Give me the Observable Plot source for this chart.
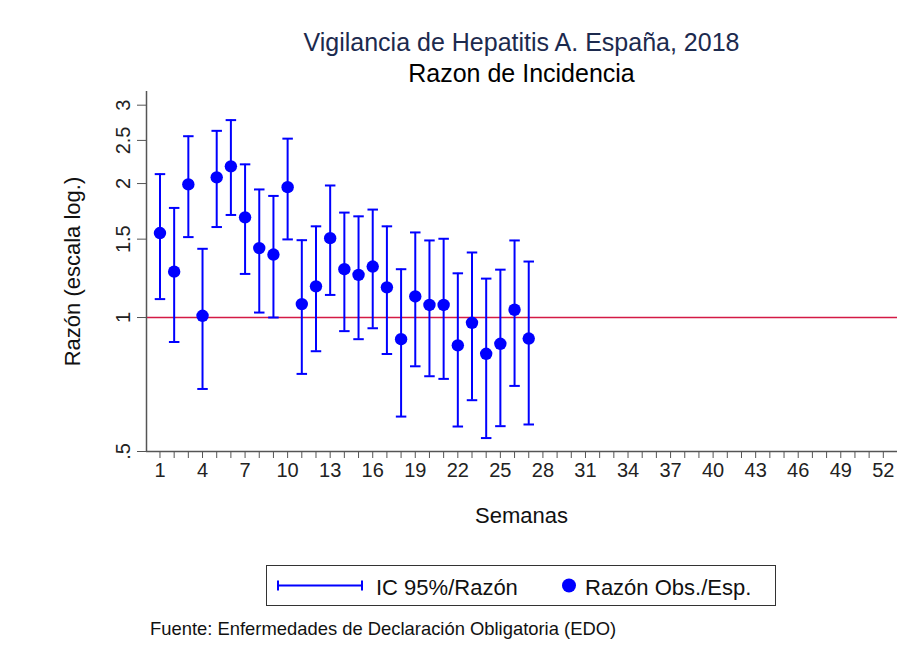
<!DOCTYPE html>
<html>
<head>
<meta charset="utf-8">
<script src="https://cdn.jsdelivr.net/npm/d3@7"></script>
<script src="https://cdn.jsdelivr.net/npm/@observablehq/plot@0.6"></script>
<style>
  html, body { margin: 0; padding: 0; background: #fff; }
  #wrap { position: relative; width: 908px; height: 656px; font-family: "Liberation Sans", Arial, sans-serif; overflow: hidden; }
  .t { position: absolute; line-height: 1; white-space: nowrap; }
  #legend { position: absolute; left: 266px; top: 565px; width: 508px; height: 39px; border: 1px solid #333; box-sizing: content-box; }
</style>
</head>
<body>
<div id="wrap"></div>
<script>
const weeks = d3.range(1, 28);
const ratio = [1.548,1.268,1.991,1.009,2.065,2.186,1.679,1.432,1.385,1.963,1.072,1.175,1.508,1.284,1.247,1.302,1.169,0.894,1.115,1.067,1.067,0.866,0.973,0.829,0.873,1.041,0.897];
const lower = [1.100,0.881,1.516,0.691,1.597,1.700,1.253,1.026,1.000,1.498,0.747,0.840,1.124,0.932,0.894,0.946,0.828,0.599,0.777,0.738,0.728,0.569,0.652,0.536,0.570,0.702,0.575];
const upper = [2.100,1.763,2.555,1.427,2.627,2.777,2.209,1.940,1.876,2.523,1.492,1.603,1.980,1.721,1.688,1.748,1.603,1.284,1.553,1.490,1.503,1.257,1.400,1.223,1.281,1.490,1.336];
const yTicks = [0.5, 1, 1.5, 2, 2.5, 3];
const yTickLabels = [".5", "1", "1.5", "2", "2.5", "3"];
const xTicks = d3.range(1, 53);
const xLabelEvery = 3;

const data = weeks.map((w, i) => ({week: w, r: ratio[i], lo: lower[i], hi: upper[i]}));
const capHalf = 0.37;
const blue = "#0000ff";
const axisColor = "#555";

const plot = Plot.plot({
  width: 908,
  height: 656,
  marginTop: 91,
  marginBottom: 205,
  marginLeft: 146,
  marginRight: 11,
  style: {fontFamily: "Liberation Sans, Arial, sans-serif", background: "transparent"},
  x: {type: "linear", domain: [0.05, 53]},
  y: {type: "log", domain: [0.5, 3.22]},
  marks: [
    Plot.ruleY([1], {stroke: "#d41a45", strokeWidth: 1.6}),
    Plot.ruleX(data, {x: "week", y1: "lo", y2: "hi", stroke: blue, strokeWidth: 2}),
    Plot.link(data, {x1: d => d.week - capHalf, x2: d => d.week + capHalf, y1: "hi", y2: "hi", stroke: blue, strokeWidth: 2}),
    Plot.link(data, {x1: d => d.week - capHalf, x2: d => d.week + capHalf, y1: "lo", y2: "lo", stroke: blue, strokeWidth: 2}),
    Plot.dot(data, {x: "week", y: "r", r: 6.2, fill: blue, stroke: "none"}),
    Plot.ruleX([0.05], {y1: 0.5, y2: 3.22, stroke: axisColor, strokeWidth: 1.5}),
    Plot.ruleY([0.5], {x1: 0.05, x2: 53, stroke: axisColor, strokeWidth: 1.5}),
    Plot.axisY({
      ticks: yTicks,
      tickFormat: d => yTickLabels[yTicks.indexOf(d)],
      tickSize: 9,
      tickPadding: 8,
      tickRotate: -90,
      fontSize: 20,
      stroke: axisColor,
      fill: "#222",
      label: null
    }),
    Plot.axisX({
      ticks: xTicks,
      tickFormat: d => ((d - 1) % xLabelEvery === 0 ? String(d) : ""),
      tickSize: 7,
      tickPadding: 4,
      fontSize: 20,
      stroke: axisColor,
      fill: "#222",
      label: null
    }),
    Plot.text(["Razón (escala log.)"], {frameAnchor: "left", textAnchor: "middle", rotate: -90, dx: -74, fontSize: 22, fill: "#111"})
  ]
});

const wrap = document.getElementById("wrap");
plot.style.position = "absolute";
plot.style.left = "0px";
plot.style.top = "0px";
wrap.appendChild(plot);

function addText(txt, opts) {
  const d = document.createElement("div");
  d.className = "t";
  d.textContent = txt;
  Object.assign(d.style, opts);
  wrap.appendChild(d);
  return d;
}
addText("Vigilancia de Hepatitis A. España, 2018", {left: "146px", width: "751px", textAlign: "center", top: "30px", fontSize: "25px", color: "#1c2a4e"});
addText("Razon de Incidencia", {left: "146px", width: "751px", textAlign: "center", top: "61px", fontSize: "25px", color: "#000"});
addText("Semanas", {left: "146px", width: "751px", textAlign: "center", top: "505px", fontSize: "22px", color: "#111"});
addText("Fuente: Enfermedades de Declaración Obligatoria (EDO)", {left: "150px", top: "620px", fontSize: "18.4px", color: "#111"});

const legend = document.createElement("div");
legend.id = "legend";
legend.innerHTML = `
  <svg width="508" height="39" style="position:absolute;left:0;top:0">
    <line x1="10" x2="96" y1="19.5" y2="19.5" stroke="${blue}" stroke-width="2"/>
    <line x1="11" x2="11" y1="14.5" y2="24.5" stroke="${blue}" stroke-width="2"/>
    <line x1="95" x2="95" y1="14.5" y2="24.5" stroke="${blue}" stroke-width="2"/>
    <circle cx="302" cy="19.5" r="7" fill="${blue}"/>
  </svg>`;
wrap.appendChild(legend);
const l1 = document.createElement("div");
l1.className = "t"; l1.textContent = "IC 95%/Razón";
Object.assign(l1.style, {left: "109px", top: "11px", fontSize: "22px", color: "#111"});
legend.appendChild(l1);
const l2 = document.createElement("div");
l2.className = "t"; l2.textContent = "Razón Obs./Esp.";
Object.assign(l2.style, {left: "318px", top: "11px", fontSize: "22px", color: "#111"});
legend.appendChild(l2);
</script>
</body>
</html>
